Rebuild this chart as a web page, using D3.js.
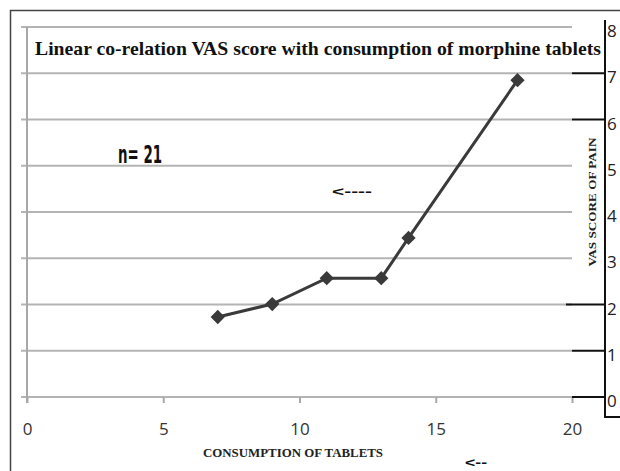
<!DOCTYPE html>
<html lang="en">
    <head>
        <meta charset="UTF-8">
        <title>VAS score vs tablets</title>
        <script src="https://cdn.jsdelivr.net/npm/d3@7"></script>
        <style>
            body { margin: 0; background: #fff; }
            svg { display: block; }
        </style>
    </head>
    <body>
        <script>
            // values
            const tablets = [7, 9, 11, 13, 14, 18];
            const vasScore = [1.73, 2.01, 2.57, 2.57, 3.44, 6.85];
            const xTicks = [0, 5, 10, 15, 20];
            const yTicks = [0, 1, 2, 3, 4, 5, 6, 7, 8];
            const blackTicks = [0, 1, 2, 6, 7];

            const titleText = "Linear co-relation VAS score with consumption of morphine tablets";
            const xLabel = "CONSUMPTION OF TABLETS";
            const yLabel = "VAS SCORE OF PAIN";

            const w = 620, h = 471;
            const points = tablets.map((t, i) => ({x: t, y: vasScore[i]}));

            const xScale = d3.scaleLinear().domain([0, 20]).range([27, 572]);
            const yScale = d3.scaleLinear().domain([0, 8]).range([397, 27]);

            const svg = d3.select("body")
                .append("svg")
                .attr("width", w)
                .attr("height", h);

            // outer frame (runs off the right and bottom)
            svg.append("path")
                .attr("d", "M10.5," + h + "V10.5H" + w)
                .attr("fill", "none")
                .attr("stroke", "#444")
                .attr("stroke-width", 1.5);

            // grey gridlines
            svg.append("g")
                .selectAll("line")
                .data(yTicks)
                .enter()
                .append("line")
                .attr("x1", 21)
                .attr("x2", xScale(20))
                .attr("y1", d => yScale(d))
                .attr("y2", d => yScale(d))
                .attr("stroke", "#b4b4b4")
                .attr("stroke-width", 2);

            // left grey axis line
            svg.append("line")
                .attr("x1", xScale(0)).attr("x2", xScale(0))
                .attr("y1", yScale(8)).attr("y2", yScale(0) + 6)
                .attr("stroke", "#a8a8a8")
                .attr("stroke-width", 2);

            // x axis
            const xAxis = svg.append("g")
                .attr("transform", "translate(0," + yScale(0) + ")")
                .call(d3.axisBottom(xScale).tickValues(xTicks).tickSize(6).tickPadding(20));
            xAxis.select(".domain").remove();
            xAxis.selectAll(".tick line").attr("stroke", "#a8a8a8").attr("stroke-width", 2);
            xAxis.selectAll(".tick text")
                .attr("font-family", "'Open Sans', sans-serif")
                .attr("font-size", 17)
                .attr("fill", "#333");

            // right black axis with its own labels
            svg.append("path")
                .attr("d", "M605,20V417H" + w)
                .attr("fill", "none")
                .attr("stroke", "#111")
                .attr("stroke-width", 2);

            svg.append("g")
                .selectAll("line")
                .data(blackTicks)
                .enter()
                .append("line")
                .attr("x1", d => d === 2 ? 566 : xScale(20))
                .attr("x2", 605)
                .attr("y1", d => yScale(d))
                .attr("y2", d => yScale(d))
                .attr("stroke", "#111")
                .attr("stroke-width", 2);

            svg.append("g")
                .selectAll("text")
                .data(yTicks)
                .enter()
                .append("text")
                .attr("x", 607)
                .attr("y", d => yScale(d) + 10)
                .attr("font-family", "'Open Sans', sans-serif")
                .attr("font-size", 17)
                .attr("fill", "#222")
                .text(d => d);

            // title
            svg.append("text")
                .attr("x", 35)
                .attr("y", 55)
                .attr("font-family", "'Liberation Serif', 'Times New Roman', serif")
                .attr("font-weight", "bold")
                .attr("font-size", 19)
                .attr("textLength", 566)
                .attr("lengthAdjust", "spacingAndGlyphs")
                .attr("fill", "#111")
                .text(titleText);

            // axis titles
            svg.append("text")
                .attr("x", 293)
                .attr("y", 457)
                .attr("text-anchor", "middle")
                .attr("font-family", "'Liberation Serif', serif")
                .attr("font-weight", "bold")
                .attr("font-size", 12)
                .attr("textLength", 180)
                .attr("lengthAdjust", "spacingAndGlyphs")
                .attr("fill", "#222")
                .text(xLabel);

            svg.append("text")
                .attr("transform", "translate(596,202) rotate(-90)")
                .attr("text-anchor", "middle")
                .attr("font-family", "'Liberation Serif', serif")
                .attr("font-weight", "bold")
                .attr("font-size", 11)
                .attr("textLength", 129)
                .attr("lengthAdjust", "spacingAndGlyphs")
                .attr("fill", "#222")
                .text(yLabel);

            // annotations
            svg.append("text")
                .attr("x", 118)
                .attr("y", 163)
                .attr("font-family", "'Liberation Sans Narrow', 'DejaVu Sans Condensed', sans-serif")
                .attr("font-weight", "bold")
                .attr("font-size", 24)
                .attr("textLength", 44)
                .attr("lengthAdjust", "spacingAndGlyphs")
                .attr("fill", "#111")
                .text("n= 21");

            svg.append("text")
                .attr("x", 332)
                .attr("y", 196)
                .attr("font-family", "'Liberation Sans', sans-serif")
                .attr("font-weight", "bold")
                .attr("font-size", 12)
                .attr("textLength", 40)
                .attr("lengthAdjust", "spacingAndGlyphs")
                .attr("fill", "#111")
                .text("<----");

            svg.append("text")
                .attr("x", 465)
                .attr("y", 467)
                .attr("font-family", "'Liberation Sans', sans-serif")
                .attr("font-weight", "bold")
                .attr("font-size", 12)
                .attr("textLength", 22)
                .attr("lengthAdjust", "spacingAndGlyphs")
                .attr("fill", "#111")
                .text("<--");

            // series line and diamond markers
            const line = d3.line()
                .x(d => xScale(d.x))
                .y(d => yScale(d.y));

            svg.append("path")
                .datum(points)
                .attr("d", line)
                .attr("fill", "none")
                .attr("stroke", "#3a3a3a")
                .attr("stroke-width", 3);

            svg.append("g")
                .selectAll("path")
                .data(points)
                .enter()
                .append("path")
                .attr("d", d3.symbol().type(d3.symbolDiamond2).size(130))
                .attr("transform", d => "translate(" + xScale(d.x) + "," + yScale(d.y) + ")")
                .attr("fill", "#3a3a3a");
        </script>
    </body>
</html>
